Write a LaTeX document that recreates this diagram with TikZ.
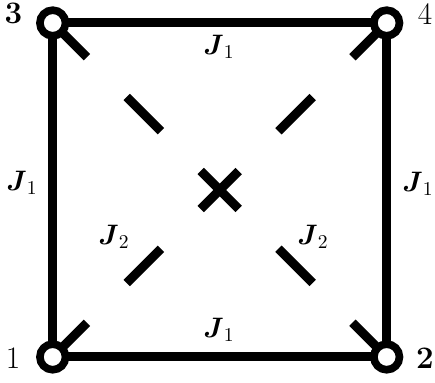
\documentclass[tikz,border=0pt]{standalone}
\usepackage{amsmath}
\usepackage{tikz}
\usetikzlibrary{positioning, backgrounds}

\tikzset{
  site/.style={circle, draw=black, fill=white, line width=3.9pt,
    minimum size=0.46cm, inner sep=0pt},
  bondone/.style={line width=4.6pt, draw=black},
  bondtwo/.style={line width=4.6pt, draw=black,
    dash pattern=on 0.87cm off 1.01cm},
  sitenum/.style={font=\fontsize{16}{19}\selectfont},
  coupling/.style={font=\Large}
}

\begin{document}
\begin{tikzpicture}
  \useasboundingbox (-0.947,-0.467) rectangle (6.868,6.413);

  %% Sites on the corners
  \node[site] (c1) at (0,0) {};
  \node[site] (c2) at (6,0) {};
  \node[site] (c3) at (0,6) {};
  \node[site] (c4) at (6,6) {};
  \coordinate (ctr) at (3,3);

  %% Bonds behind the sites
  \begin{scope}[on background layer]
    \draw[bondone] (c1.center) -- (c2.center) -- (c4.center)
      -- (c3.center) -- cycle;
    \draw[bondtwo] (c1.center) -- (ctr);
    \draw[bondtwo] (c2.center) -- (ctr);
    \draw[bondtwo] (c3.center) -- (ctr);
    \draw[bondtwo] (c4.center) -- (ctr);
  \end{scope}

  %% Site numbers
  \node[sitenum] (n1) at (-0.713,-0.018) {1};
  \node[sitenum] (n2) at (6.688,-0.018) {\textbf{2}};
  \node[sitenum] (n3) at (-0.704,6.165) {\textbf{3}};
  \node[sitenum] (n4) at (6.688,6.165) {4};

  %% Couplings
  \node[coupling] (jtop) at (2.987,5.569) {$\boldsymbol{J}_1$};
  \node[coupling] (jbot) at (2.987,0.485) {$\boldsymbol{J}_1$};
  \node[coupling] (jleft) at (-0.551,3.126) {$\boldsymbol{J}_1$};
  \node[coupling] (jright) at (6.562,3.108) {$\boldsymbol{J}_1$};
  \node[coupling] (jdl) at (1.101,2.156) {$\boldsymbol{J}_2$};
  \node[coupling] (jdr) at (4.676,2.156) {$\boldsymbol{J}_2$};
\end{tikzpicture}
\end{document}
